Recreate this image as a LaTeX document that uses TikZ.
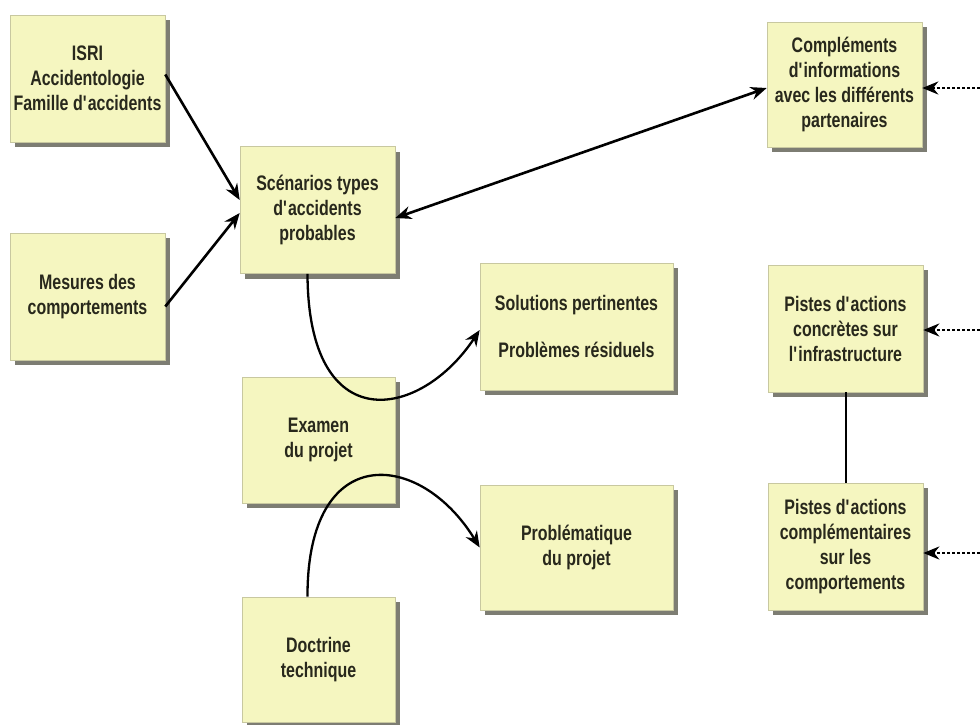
\documentclass[tikz,border=0pt]{standalone}
\usepackage{fontspec}
\setmainfont{Liberation Sans}[FakeStretch=0.76]
\usetikzlibrary{arrows.meta,shadows,calc}
\definecolor{boxfill}{RGB}{245,246,192}
\definecolor{boxline}{RGB}{200,200,160}
\definecolor{shadowc}{RGB}{125,125,115}
\definecolor{txt}{RGB}{40,40,28}
\newcommand{\ap}{\textquotesingle}
\tikzset{
  card/.style={draw=boxline, line width=0.6pt, fill=boxfill, inner sep=0pt,
    minimum width=155pt, minimum height=127pt, align=center, text=txt,
    font=\bfseries\fontsize{21}{25}\selectfont,
    drop shadow={shadow xshift=5pt, shadow yshift=-5pt, fill=shadowc, opacity=1}},
  wide/.style={card, minimum width=193pt},
  tip/.style={Stealth[length=16pt,width=13pt]},
  link/.style={line width=2.6pt, -{Stealth[length=16pt,width=13pt]}},
  curvelink/.style={line width=2.3pt, -{Stealth[length=16pt,width=13pt]}},
  dotlink/.style={line width=2.4pt, dash pattern=on 3pt off 2pt, -{Stealth[length=16pt,width=13pt]}}
}
\begin{document}
\begin{tikzpicture}[x=1pt,y=-1pt]
\useasboundingbox[fill=white] (0,0) rectangle (980,725);

\node[card] (isri) at (87.5,78.5) {ISRI\\Accidentologie\\Famille d\ap accidents};
\node[card] (mes) at (87.5,296.5) {Mesures des\\comportements};
\node[card] (scen) at (317.5,210) {Scénarios types\\d\ap accidents\\probables};
\node[card, minimum height=125pt] (compl) at (844.5,84.5) {Compléments\\d\ap informations\\avec les différents\\partenaires};
\node[wide] (sol) at (576.5,326.5) {Solutions pertinentes\\[22pt]Problèmes résiduels};
\node[card, minimum width=153pt, minimum height=126pt] (exam) at (318.5,440) {Examen\\du projet};
\node[wide, minimum height=125pt] (prob) at (576.5,547.5) {Problématique\\du projet};
\node[card, minimum width=153pt, minimum height=125pt] (doc) at (318.5,659.5) {Doctrine\\technique};
\node[card] (infra) at (845.5,328.5) {Pistes d\ap actions\\concrètes sur\\l\ap infrastructure};
\node[card] (comp) at (845.5,546.5) {Pistes d\ap actions\\complémentaires\\sur les\\comportements};

\coordinate (r1) at (990,88);
\coordinate (r2) at (990,330);
\coordinate (r3) at (990,553);

\draw[link] ([yshift=4pt]isri.east) -- ([yshift=10pt]scen.west);
\draw[link] ([yshift=-10pt]mes.east) -- ([yshift=-3pt]scen.west);
\draw[line width=2.6pt, {Stealth[length=16pt,width=13pt]}-{Stealth[length=16pt,width=13pt]}]
  ([yshift=-8pt]scen.east) -- ([yshift=-3.5pt]compl.west);

\draw[curvelink] ([xshift=-10pt]scen.south) .. controls (308,440) and (420,420) .. ([yshift=-3.5pt]sol.west);
\draw[curvelink] ([xshift=-11pt]doc.north) .. controls (307,440) and (420,450) .. (prob.west);

\draw[line width=2pt] (infra.south) -- (comp.north);

\draw[dotlink] (r1) -- ([yshift=-3.5pt]compl.east);
\draw[dotlink] (r2) -- ([yshift=-1.5pt]infra.east);
\draw[dotlink] (r3) -- ([yshift=-6.5pt]comp.east);
\end{tikzpicture}
\end{document}
